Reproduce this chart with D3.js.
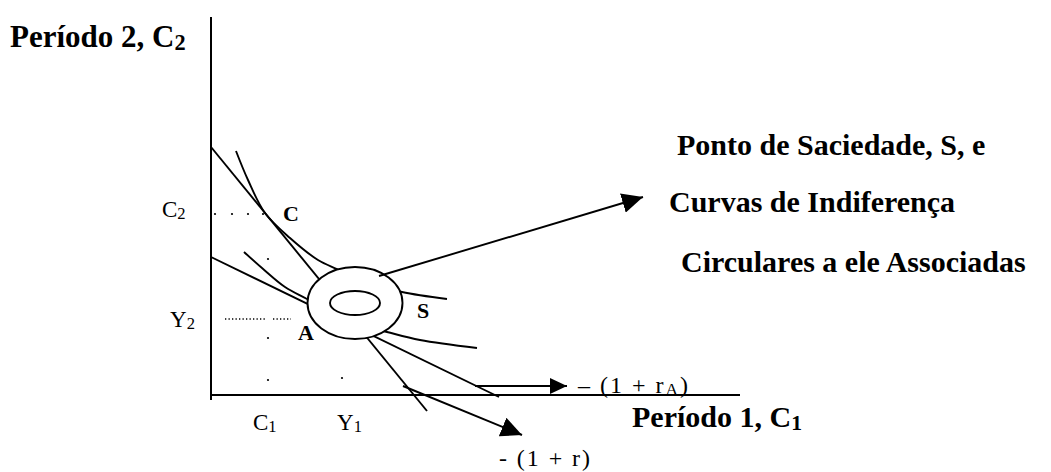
<!DOCTYPE html>
<html>
<head>
<meta charset="utf-8">
<script src="https://cdn.jsdelivr.net/npm/d3@7"></script>
<style>
  body { margin: 0; background: #fff; }
  text { font-family: "Liberation Serif", "Times New Roman", serif; fill: #000; }
</style>
</head>
<body>
<div id="vis"></div>
<script>
// Diagram units: origin at the corner of the axes, y pointing up
const budgetSteep = [[0, 248], [216, -16]]      // line through C
const budgetFlat = [[0, 138], [288, -2]]        // line through A
const curveUpper = [[25, 244], [37, 215], [54, 182], [79, 157], [107, 135], [126, 126], [159, 112], [191, 103], [236, 96]]
const curveLower = [[33, 143], [51, 127], [74, 108], [96, 96], [139, 73], [176, 63], [209, 55], [266, 47]]

// satiation point S: centre, then the two circular indifference curves (rx, ry)
const satiation = [144, 92]
const rings = [[47.5, 36], [25, 12]]

// arrows: [from, to, head]
const arrows = [
    [[168, 119], [432, 198], 'big'],
    [[264, 9], [356, 9], 'small'],
    [[192, 9], [311, -40], 'big']
]

// guide marks
const dotsC2 = [[4, 181], [21, 181], [37, 181], [52, 181]]
const dotsLoose = [[57, 136], [57, 57], [57, 15], [131, 17]]
const dashY2 = [[[14, 76], [54, 76]], [[62, 76], [80, 76]]]

// labels: text, subscript, tail, position, size, bold
const labels = [
    ['Período 2, C', '2', '', [-201, 348], 31, true],
    ['Ponto de Saciedade, S, e', '', '', [466, 240], 30, true],
    ['Curvas de Indiferença', '', '', [458, 183], 30, true],
    ['Circulares a ele Associadas', '', '', [470, 123], 30, true],
    ['Período 1, C', '1', '', [421, -32], 30, true],
    ['C', '2', '', [-49, 178], 23, false],
    ['Y', '2', '', [-41, 68], 23, false],
    ['C', '1', '', [42, -35], 23, false],
    ['Y', '1', '', [126, -35], 23, false],
    ['C', '', '', [72, 174], 22, true],
    ['A', '', '', [87, 55], 22, true],
    ['S', '', '', [206, 77], 22, true]
]
const rateLabels = [
    ['– (1 + r', 'A', ')', [367, 2], 24, 110],
    ['- (1 + r)', '', '', [288, -71], 24, 91]
]

const x = d3.scaleLinear().domain([0, 530]).range([211, 741])
const y = d3.scaleLinear().domain([0, 380]).range([395, 15])

const svg = d3.select('#vis')
    .append('svg')
    .attr('width', 1051)
    .attr('height', 472)

const defs = svg.append('defs')
const heads = {big: [21, 10], small: [17, 8]}
Object.entries(heads).forEach(function([name, [len, half]]) {
    defs.append('marker')
        .attr('id', 'head-' + name)
        .attr('markerUnits', 'userSpaceOnUse')
        .attr('markerWidth', len)
        .attr('markerHeight', half * 2)
        .attr('refX', len)
        .attr('refY', half)
        .attr('orient', 'auto')
        .append('path')
        .attr('d', `M0,0L${len},${half}L0,${half * 2}Z`)
        .attr('fill', '#000')
})

const line = d3.line().x(d => x(d[0])).y(d => y(d[1]))
const curve = d3.line().x(d => x(d[0])).y(d => y(d[1])).curve(d3.curveCatmullRom.alpha(0.5))

// axes
svg.append('path').attr('d', line([[0, 378], [0, -5]]))
    .attr('stroke', '#000').attr('stroke-width', 2).attr('fill', 'none')
svg.append('path').attr('d', line([[0, 0], [529, 0]]))
    .attr('stroke', '#000').attr('stroke-width', 2).attr('fill', 'none')

// budget lines and indifference curves
svg.selectAll('.budget')
    .data([budgetSteep, budgetFlat])
    .enter().append('path')
    .attr('d', line)
    .attr('stroke', '#000').attr('stroke-width', 1.9).attr('fill', 'none')

svg.selectAll('.indiff')
    .data([curveUpper, curveLower])
    .enter().append('path')
    .attr('d', curve)
    .attr('stroke', '#000').attr('stroke-width', 1.9).attr('fill', 'none')

// circular curves around S, white filled so they hide what passes under
svg.selectAll('ellipse')
    .data(rings)
    .enter().append('ellipse')
    .attr('cx', x(satiation[0]))
    .attr('cy', y(satiation[1]))
    .attr('rx', d => x(d[0]) - x(0))
    .attr('ry', d => y(0) - y(d[1]))
    .attr('fill', '#fff')
    .attr('stroke', '#000').attr('stroke-width', 1.9)

// guides
svg.selectAll('.dotC2')
    .data(dotsC2.concat(dotsLoose))
    .enter().append('circle')
    .attr('cx', d => x(d[0])).attr('cy', d => y(d[1]))
    .attr('r', 1.1).attr('fill', '#000')

svg.selectAll('.dashY2')
    .data(dashY2)
    .enter().append('path')
    .attr('d', line)
    .attr('stroke', '#000').attr('stroke-width', 1.3)
    .attr('stroke-dasharray', '1.3,2.2').attr('fill', 'none')

// arrows
svg.selectAll('.arrow')
    .data(arrows)
    .enter().append('path')
    .attr('d', d => line([d[0], d[1]]))
    .attr('stroke', '#000').attr('stroke-width', 1.9).attr('fill', 'none')
    .attr('marker-end', d => `url(#head-${d[2]})`)

// text
function addLabel(d, fit) {
    const t = svg.append('text')
        .attr('x', x(d[3][0]))
        .attr('y', y(d[3][1]))
        .attr('font-size', d[4])
        .attr('font-weight', d[5] === true ? 'bold' : 'normal')
    t.append('tspan').text(d[0])
    if (d[1]) {
        t.append('tspan').text(d[1]).attr('font-size', d[4] * 0.72).attr('dy', d[4] * 0.1)
    }
    if (d[2]) {
        t.append('tspan').text(d[2]).attr('dy', -d[4] * 0.1)
    }
    if (fit) t.attr('textLength', fit).attr('lengthAdjust', 'spacing')
}
labels.forEach(d => addLabel(d))
rateLabels.forEach(d => addLabel([d[0], d[1], d[2], d[3], d[4], false], d[5]))
</script>
</body>
</html>
